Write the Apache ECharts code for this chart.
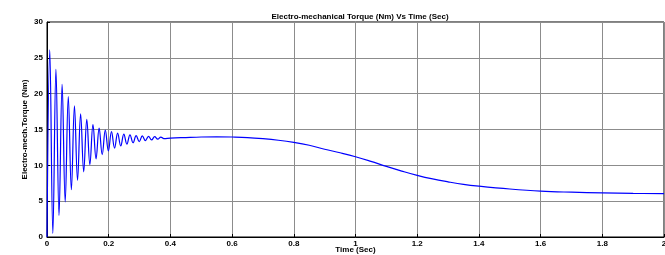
<!DOCTYPE html>
<html>
<head>
<meta charset="utf-8">
<script src="https://cdn.jsdelivr.net/npm/echarts@6/dist/echarts.min.js"></script>
<style>
  html, body { margin: 0; padding: 0; background: #fff; }
  #chart { width: 665px; height: 255px; }
</style>
</head>
<body>
<div id="chart"></div>
<script>
// time (s) and electro-mechanical torque (Nm)
const timeSec = [
  0, 0.009, 0.019, 0.029, 0.039, 0.049, 0.059, 0.069, 0.079, 0.089, 0.099,
  0.109, 0.119, 0.129, 0.139, 0.149, 0.159, 0.169, 0.179, 0.189, 0.199,
  0.209, 0.219, 0.229, 0.239, 0.249, 0.259, 0.269, 0.279, 0.289, 0.299,
  0.309, 0.319, 0.329, 0.339, 0.349, 0.359, 0.369, 0.379,
  0.4, 0.45, 0.5, 0.55, 0.6, 0.65, 0.7, 0.75, 0.8, 0.85, 0.9, 0.95, 1.0,
  1.05, 1.1, 1.15, 1.2, 1.25, 1.3, 1.35, 1.4, 1.5, 1.6, 1.7, 1.8, 1.9, 2.0
];
const torqueNm = [
  0, 26.1, 0.5, 23.4, 3.0, 21.3, 4.9, 19.6, 6.6, 18.3, 7.9,
  17.2, 9.1, 16.4, 10.1, 15.7, 10.9, 15.2, 11.5, 14.9, 12.0,
  14.7, 12.4, 14.5, 12.7, 14.35, 12.95, 14.25, 13.15, 14.15, 13.3,
  14.1, 13.45, 14.05, 13.55, 14.0, 13.65, 13.95, 13.72,
  13.8, 13.88, 13.95, 13.98, 13.95, 13.88, 13.72, 13.5, 13.2, 12.8, 12.25, 11.75, 11.2,
  10.55, 9.85, 9.2, 8.6, 8.1, 7.7, 7.35, 7.1, 6.7, 6.4, 6.25, 6.15, 6.08, 6.05
];
const xTicks = [0, 0.2, 0.4, 0.6, 0.8, 1, 1.2, 1.4, 1.6, 1.8, 2];
const yTicks = [0, 5, 10, 15, 20, 25, 30];

const points = timeSec.map((t, i) => [t, torqueNm[i]]);

const chart = echarts.init(document.getElementById('chart'));
const labelFont = { fontFamily: 'Liberation Sans, Arial', fontWeight: 'bold', fontSize: 8, color: '#000' };

chart.setOption({
  animation: false,
  title: {
    text: 'Electro-mechanical Torque (Nm) Vs Time (Sec)',
    left: 355, top: 8, textAlign: 'center',
    textStyle: { fontFamily: 'Liberation Sans, Arial', fontWeight: 'bold', fontSize: 8, color: '#000' }
  },
  grid: {
    left: 47, right: 1, top: 22, bottom: 18,
    outerBoundsMode: 'none', containLabel: false,
    show: true, borderColor: '#000', borderWidth: 1
  },
  xAxis: {
    type: 'value', min: 0, max: 2, interval: 0.2,
    name: 'Time (Sec)', nameLocation: 'middle', nameGap: 9, nameMoveOverlap: false,
    nameTextStyle: labelFont,
    axisLine: { lineStyle: { color: '#000' } },
    axisTick: { inside: true, length: 3, lineStyle: { color: '#000' } },
    axisLabel: Object.assign({ margin: 3, formatter: v => xTicks.includes(+v.toFixed(1)) ? String(+v.toFixed(1)) : '' }, labelFont),
    splitLine: { lineStyle: { color: '#8c8c8c', width: 1 } }
  },
  yAxis: {
    type: 'value', min: 0, max: 30, interval: 5,
    name: 'Electro-mech.Torque (Nm)', nameLocation: 'middle', nameGap: 18, nameMoveOverlap: false,
    nameTextStyle: labelFont,
    axisLine: { lineStyle: { color: '#000' } },
    axisTick: { inside: true, length: 3, lineStyle: { color: '#000' } },
    axisLabel: Object.assign({ margin: 4, formatter: v => yTicks.includes(v) ? String(v) : '' }, labelFont),
    splitLine: { lineStyle: { color: '#8c8c8c', width: 1 } }
  },
  series: [{
    type: 'line',
    data: points,
    showSymbol: false,
    smooth: 0.4,
    lineStyle: { color: '#0000ff', width: 1.2 }
  }]
});
</script>
</body>
</html>
